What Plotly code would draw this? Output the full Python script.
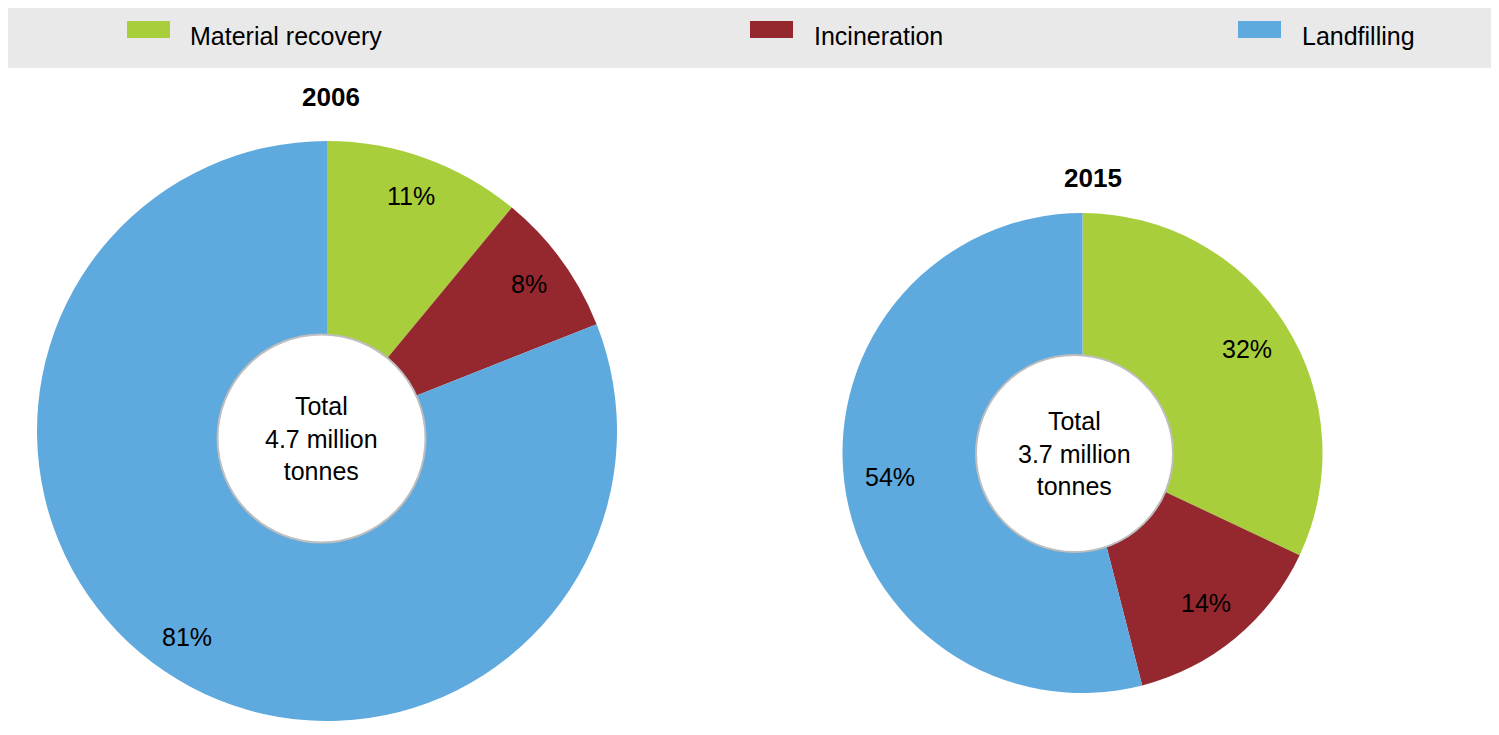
import math
import plotly.graph_objects as go

# ---------------- data ----------------
categories = ["Material recovery", "Incineration", "Landfilling"]
colors = ["#A8CE3B", "#95272E", "#5EA9DD"]
years = ["2006", "2015"]
values_2006 = [11, 8, 81]
values_2015 = [32, 14, 54]
totals = ["4.7 million", "3.7 million"]

# ---------------- layout geometry (page px) ----------------
PAGE_W, PAGE_H = 1499, 735
OFF = 8  # default body margin of the page
W, H = PAGE_W - 2 * OFF, PAGE_H - 2 * OFF
FONT = "Liberation Sans Narrow, Arial Narrow, Liberation Sans, Arial, sans-serif"
FS = 25

pie_geo = [
    dict(cx=327, cy=431, r=290, hx=321.5, hy=438.5, hr=104, k=0.86, tx=331, ty=97),
    dict(cx=1082.5, cy=453, r=240, hx=1074.5, hy=453.5, hr=98.5, k=0.81, tx=1093, ty=178),
]
legend_swatch_x = [127, 750, 1238]
legend_text_x = [188, 812, 1300]


def px(x):
    return (x - OFF) / W


def py(y):
    return 1 - (y - OFF) / H


fig = go.Figure()
annotations = []
shapes = []

# legend background band
shapes.append(dict(type="rect", xref="paper", yref="paper",
                   x0=0, x1=1, y0=py(68), y1=1,
                   fillcolor="#E9E9E9", line=dict(width=0), layer="below"))
for cat, col, sx, tx in zip(categories, colors, legend_swatch_x, legend_text_x):
    shapes.append(dict(type="rect", xref="paper", yref="paper",
                       x0=px(sx), x1=px(sx + 43), y0=py(38), y1=py(21),
                       fillcolor=col, line=dict(width=0), layer="above"))
    annotations.append(dict(text=cat, xref="paper", yref="paper",
                            x=px(tx), y=py(36), xanchor="left", yanchor="middle",
                            showarrow=False, font=dict(family=FONT, size=FS, color="#000000")))

for year, vals, total, g in zip(years, [values_2006, values_2015], totals, pie_geo):
    fig.add_trace(go.Pie(
        labels=categories, values=vals, sort=False, direction="clockwise", rotation=0,
        marker=dict(colors=colors, line=dict(width=0)),
        textinfo="none", showlegend=False, name=year,
        domain=dict(x=[px(g["cx"] - g["r"]), px(g["cx"] + g["r"])],
                    y=[py(g["cy"] + g["r"]), py(g["cy"] - g["r"])]),
    ))
    # percentage labels at slice mid-angles
    tot = sum(vals)
    cum = 0
    for v in vals:
        mid = (cum + v / 2) / tot * 2 * math.pi
        cum += v
        lx = g["cx"] + g["k"] * g["r"] * math.sin(mid)
        ly = g["cy"] - g["k"] * g["r"] * math.cos(mid)
        annotations.append(dict(text=f"{v}%", xref="paper", yref="paper",
                                x=px(lx), y=py(ly), xanchor="center", yanchor="middle",
                                showarrow=False, font=dict(family=FONT, size=FS, color="#000000")))
    # centre hole
    shapes.append(dict(type="circle", xref="paper", yref="paper",
                       x0=px(g["hx"] - g["hr"]), x1=px(g["hx"] + g["hr"]),
                       y0=py(g["hy"] + g["hr"]), y1=py(g["hy"] - g["hr"]),
                       fillcolor="#FFFFFF", line=dict(color="#BEBEBE", width=2), layer="above"))
    annotations.append(dict(text=f"Total<br>{total}<br>tonnes", xref="paper", yref="paper",
                            x=px(g["hx"]), y=py(g["hy"]), xanchor="center", yanchor="middle",
                            showarrow=False, font=dict(family=FONT, size=FS, color="#000000")))
    # year title
    annotations.append(dict(text=f"<b>{year}</b>", xref="paper", yref="paper",
                            x=px(g["tx"]), y=py(g["ty"]), xanchor="center", yanchor="middle",
                            showarrow=False, font=dict(family=FONT, size=26, color="#000000")))

fig.update_layout(
    width=W, height=H,
    margin=dict(l=0, r=0, t=0, b=0),
    paper_bgcolor="#FFFFFF", plot_bgcolor="#FFFFFF",
    shapes=shapes, annotations=annotations,
    font=dict(family=FONT, size=FS, color="#000000"),
)

fig.write_html("out.html")
